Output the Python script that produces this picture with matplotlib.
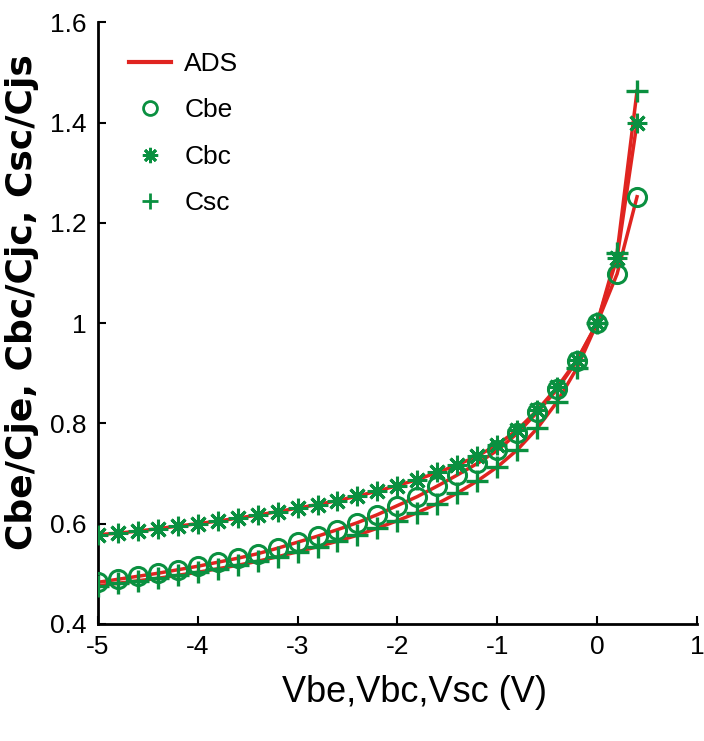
import numpy as np
import matplotlib.pyplot as plt

plt.rcParams['font.family'] = ['Liberation Sans', 'DejaVu Sans']

# bias voltage (V) and normalised junction capacitances
v = [-5.0, -4.8, -4.6, -4.4, -4.2, -4.0, -3.8, -3.6, -3.4, -3.2,
     -3.0, -2.8, -2.6, -2.4, -2.2, -2.0, -1.8, -1.6, -1.4, -1.2,
     -1.0, -0.8, -0.6, -0.4, -0.2, 0.0, 0.2, 0.4]
cbe = [0.483, 0.489, 0.495, 0.501, 0.508, 0.515, 0.523, 0.531, 0.540, 0.551,
       0.563, 0.575, 0.588, 0.602, 0.618, 0.636, 0.654, 0.675, 0.697, 0.720,
       0.746, 0.780, 0.822, 0.868, 0.925, 1.000, 1.098, 1.252]
cbc = [0.578, 0.581, 0.585, 0.590, 0.595, 0.600, 0.605, 0.611, 0.617, 0.624,
       0.631, 0.638, 0.646, 0.655, 0.665, 0.676, 0.688, 0.702, 0.717, 0.735,
       0.757, 0.787, 0.826, 0.872, 0.927, 1.000, 1.130, 1.400]
csc = [0.476, 0.481, 0.486, 0.491, 0.497, 0.503, 0.510, 0.517, 0.525, 0.534,
       0.544, 0.554, 0.565, 0.577, 0.591, 0.606, 0.622, 0.640, 0.661, 0.685,
       0.713, 0.747, 0.790, 0.843, 0.911, 1.000, 1.140, 1.463]

red = '#e02420'
green = '#0a9040'
star = (8, 2, 0)   # 8-armed asterisk

fig = plt.figure(figsize=(7.04, 7.41), dpi=100)
ax = fig.add_axes([0.139, 0.158, 0.851, 0.812])

for c in (cbe, cbc, csc):
    ax.plot(v, c, color=red, lw=2.5, zorder=2)

ax.plot(v, cbe, ls='none', marker='o', ms=13, mfc='none', mec=green, mew=2.2, zorder=3)
ax.plot(v, cbc, ls='none', marker=star, ms=14, mec=green, mew=2.2, zorder=3)
ax.plot(v, csc, ls='none', marker='+', ms=16, mec=green, mew=2.4, zorder=3)

# legend entries
h = [plt.Line2D([], [], color=red, lw=3),
     plt.Line2D([], [], ls='none', marker='o', ms=10, mfc='none', mec=green, mew=2),
     plt.Line2D([], [], ls='none', marker=star, ms=11, mec=green, mew=2),
     plt.Line2D([], [], ls='none', marker='+', ms=12, mec=green, mew=2)]
ax.legend(h, ['ADS', 'Cbe', 'Cbc', 'Csc'], loc='upper left', frameon=False,
          fontsize=19, handlelength=1.6, handletextpad=0.5, labelspacing=0.85,
          bbox_to_anchor=(0.012, 0.99))

ax.set_xlim(-5, 1)
ax.set_ylim(0.4, 1.6)
ax.set_xticks([-5, -4, -3, -2, -1, 0, 1])
ax.set_xticklabels(['-5', '-4', '-3', '-2', '-1', '0', '1'])
ax.set_yticks([0.4, 0.6, 0.8, 1.0, 1.2, 1.4, 1.6])
ax.set_yticklabels(['0.4', '0.6', '0.8', '1', '1.2', '1.4', '1.6'])
ax.tick_params(direction='in', length=6, width=1.5, labelsize=19, pad=8)
ax.spines['top'].set_visible(False)
ax.spines['right'].set_visible(False)
for s in ('left', 'bottom'):
    ax.spines[s].set_linewidth(2)

ax.set_xlabel('Vbe,Vbc,Vsc (V)', fontsize=26)
ax.xaxis.set_label_coords(0.528, -0.085)
ax.set_ylabel('Cbe/Cje, Cbc/Cjc, Csc/Cjs', fontsize=26, fontweight='bold',
              family=['DejaVu Sans'])
ax.yaxis.set_label_coords(-0.098, 0.535)

fig.savefig('out.png', dpi=100)
